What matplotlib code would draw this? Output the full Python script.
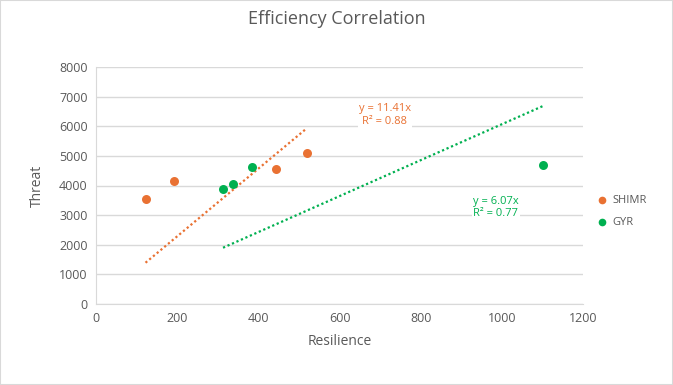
import matplotlib.pyplot as plt
import numpy as np

# data
shimr_x = [122, 192, 443, 519]
shimr_y = [3537, 4166, 4570, 5110]
gyr_x = [313, 337, 384, 1102]
gyr_y = [3895, 4040, 4640, 4705]
series_names = ["SHIMR", "GYR"]
series_colors = ["#E97132", "#00B050"]
trend_labels = ["y = 11.41x\nR² = 0.88", "y = 6.07x\nR² = 0.77"]

plt.rcParams['font.family'] = ['Open Sans', 'DejaVu Sans']
grey = "#595959"

fig = plt.figure(figsize=(6.73, 3.85), dpi=100)
ax = fig.add_axes([96/673, 1 - 304/385, 487/673, 237/385])

label_pos = [(712, 6380), (985, 3250)]
for xs, ys, name, col, lab, (lx, ly) in zip([shimr_x, gyr_x], [shimr_y, gyr_y],
                                            series_names, series_colors, trend_labels, label_pos):
    xs = np.array(xs, float)
    ys = np.array(ys, float)
    ax.scatter(xs, ys, s=42, color=col, zorder=3, label=name, linewidths=0)
    # linear trendline through origin
    slope = (xs * ys).sum() / (xs * xs).sum()
    tx = np.array([xs.min(), xs.max()])
    ax.plot(tx, slope * tx, linestyle=(0, (1, 1.2)), color=col, linewidth=1.6, zorder=2)
    ax.text(lx, ly, lab, color=col, fontsize=8,
            ha="center", va="center", linespacing=1.15, zorder=4,
            bbox=dict(facecolor="white", edgecolor="none", pad=1))

ax.set_xlim(0, 1200)
ax.set_ylim(0, 8000)
ax.set_xticks(range(0, 1201, 200))
ax.set_yticks(range(0, 8001, 1000))
ax.grid(axis="y", color="#d9d9d9", linewidth=1)
ax.set_axisbelow(True)
for s in ["top", "right"]:
    ax.spines[s].set_visible(False)
ax.spines["left"].set_color("#d9d9d9")
ax.spines["bottom"].set_color("#d9d9d9")
ax.tick_params(length=0, colors=grey, labelsize=9, pad=6)

ax.set_xlabel("Resilience", color=grey, fontsize=10, labelpad=6)
ax.set_ylabel("Threat", color=grey, fontsize=10, labelpad=10)
fig.suptitle("Efficiency Correlation", color=grey, fontsize=13, y=0.975)

ax.legend(loc="center left", bbox_to_anchor=(0.995, 0.39), frameon=False,
          handletextpad=0.0, labelcolor=grey, fontsize=8, markerscale=0.85,
          labelspacing=0.95)

fig.patches.append(plt.Rectangle((0, 0), 1, 1, transform=fig.transFigure,
                                 fill=False, edgecolor="#d9d9d9", linewidth=1.5))

fig.savefig("out.png", dpi=100)
